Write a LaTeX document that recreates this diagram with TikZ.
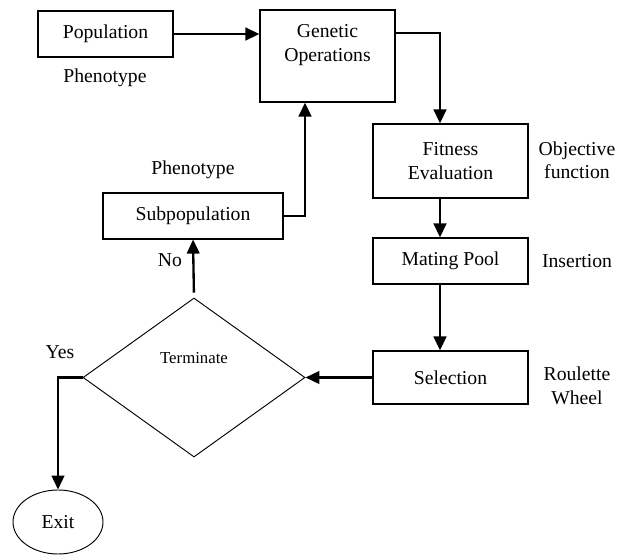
\documentclass[tikz,border=0pt]{standalone}
\usepackage{fontspec}
\setmainfont{Liberation Serif}
\usepackage{tikz}
\usetikzlibrary{shapes,shapes.geometric,arrows.meta,positioning,calc}

\begin{document}
\begin{tikzpicture}[x=0.03cm, y=-0.03cm,
        every node/.style={font=\fontsize{16.8}{20}\selectfont},
        box/.style={draw, line width=1pt, align=center, inner sep=2pt},
        flow/.style={-{Triangle[length=0.42cm,width=0.38cm]}, line width=2pt}]
        \useasboundingbox (0,0) rectangle (630,556);

        \node[box, minimum width=4.05cm, minimum height=1.38cm] (pop) at (105.5,34) {Population};
        \node[box, minimum width=4.05cm, minimum height=2.76cm,
              label={[yshift=0.33cm, align=center]center:Genetic\\Operations}] (gen) at (327.5,56) {};
        \node[box, minimum width=4.65cm, minimum height=2.22cm] (fit) at (450.5,161) {Fitness\\Evaluation};
        \node[box, minimum width=4.65cm, minimum height=1.38cm] (mat) at (450.5,261) {Mating Pool};
        \node[box, minimum width=4.65cm, minimum height=1.59cm] (sel) at (450.5,377.5) {Selection};
        \node[box, minimum width=5.4cm, minimum height=1.38cm] (sub) at (193,216) {Subpopulation};
        \node[draw, diamond, line width=0.8pt, inner sep=0pt, minimum width=6.66cm, minimum height=4.77cm,
              label={[yshift=0.57cm, font=\fontsize{14.3}{17}\selectfont]center:Terminate}] (term) at (194,377.5) {};
        \node[draw, ellipse, line width=0.8pt, minimum width=2.7cm, minimum height=1.92cm] (exit) at (58,522) {Exit};

        \node (phen1) at (105,78) {Phenotype};
        \node (phen2) at (193,170) {Phenotype};
        \node[align=center] (obj) at (577,160) {Objective\\function};
        \node (ins) at (577,261) {Insertion};
        \node[align=center] (rou) at (577,386) {Roulette\\Wheel};
        \node (no) at (170,260) {No};
        \node (yes) at (60,352) {Yes};

        \draw[flow] (pop.east) -- (pop.east -| gen.west);
        \draw[flow] ([yshift=0.69cm]gen.east) -| ([xshift=-0.315cm]fit.north);
        \draw[flow] ([xshift=-0.315cm]fit.south) -- ([xshift=-0.315cm]mat.north);
        \draw[flow] ([xshift=-0.315cm]mat.south) -- ([xshift=-0.315cm]sel.north);
        \draw[flow] (sel.west) -- (term.east);
        \draw[flow, shorten <=0.15cm] (term.north) -- (sub.south);
        \draw[flow] (sub.east) -| ([xshift=-0.675cm]gen.south);
        \draw[flow] (term.west) -| (exit.north);
\end{tikzpicture}
\end{document}
